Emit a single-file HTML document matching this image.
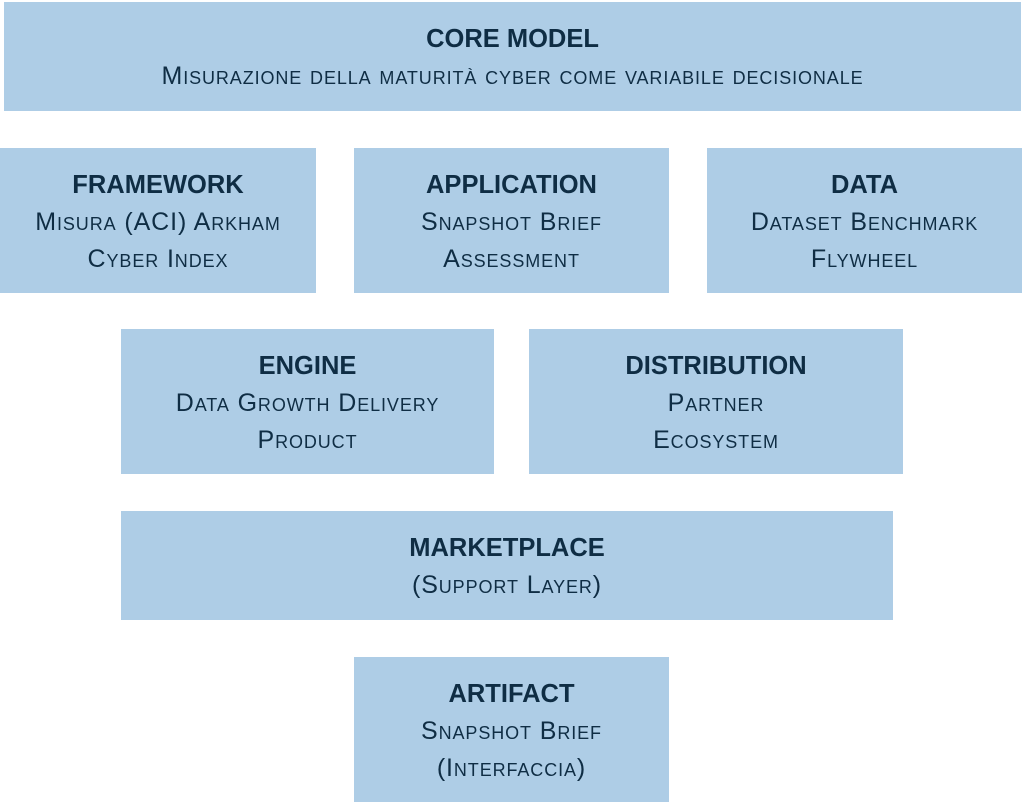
<!DOCTYPE html>
<html><head><meta charset="utf-8"><style>
html,body{margin:0;padding:0;background:#fff;width:1024px;height:803px;overflow:hidden}
.b{position:absolute;box-sizing:border-box;padding-top:3px;background:#aecde6;color:#0f2d44;font-family:"Liberation Sans",sans-serif;text-align:center;display:flex;flex-direction:column;justify-content:center;align-items:center}
.t{font-weight:bold;font-size:25.5px;line-height:37px}
.s{font-variant:small-caps;font-size:25px;line-height:37px;letter-spacing:0.9px}
</style></head><body>
<div class="b" style="left:4px;top:2px;width:1017px;height:109px"><div class="t">CORE MODEL</div><div class="s">Misurazione della maturità cyber come variabile decisionale</div></div>
<div class="b" style="left:0;top:148px;width:316px;height:145px"><div class="t">FRAMEWORK</div><div class="s">Misura (ACI) Arkham<br>Cyber Index</div></div>
<div class="b" style="left:354px;top:148px;width:315px;height:145px"><div class="t">APPLICATION</div><div class="s">Snapshot Brief<br>Assessment</div></div>
<div class="b" style="left:707px;top:148px;width:315px;height:145px"><div class="t">DATA</div><div class="s">Dataset Benchmark<br>Flywheel</div></div>
<div class="b" style="left:121px;top:329px;width:373px;height:145px"><div class="t">ENGINE</div><div class="s">Data Growth Delivery<br>Product</div></div>
<div class="b" style="left:529px;top:329px;width:374px;height:145px"><div class="t">DISTRIBUTION</div><div class="s">Partner<br>Ecosystem</div></div>
<div class="b" style="left:121px;top:511px;width:772px;height:109px"><div class="t">MARKETPLACE</div><div class="s">(Support Layer)</div></div>
<div class="b" style="left:354px;top:657px;width:315px;height:145px"><div class="t">ARTIFACT</div><div class="s">Snapshot Brief<br>(Interfaccia)</div></div>
</body></html>
